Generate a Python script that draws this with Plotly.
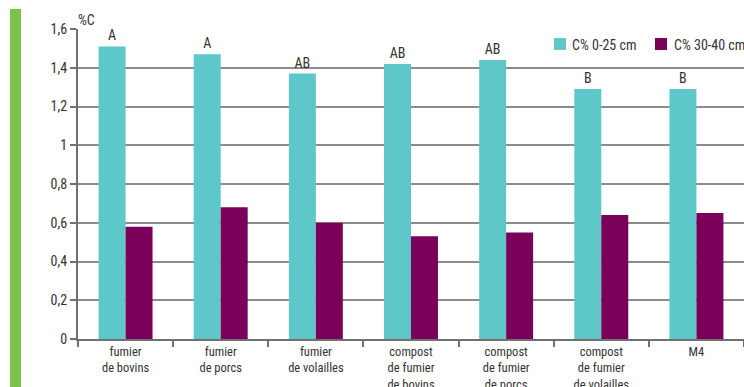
import plotly.graph_objects as go

categories = ["fumier<br>de bovins", "fumier<br>de porcs", "fumier<br>de volailles",
              "compost<br>de fumier<br>de bovins", "compost<br>de fumier<br>de porcs",
              "compost<br>de fumier<br>de volailles", "M4"]
c_0_25 = [1.51, 1.47, 1.37, 1.42, 1.44, 1.29, 1.29]
c_30_40 = [0.58, 0.68, 0.60, 0.53, 0.55, 0.64, 0.65]
letters = ["A", "A", "AB", "AB", "AB", "B", "B"]
series_names = ["C% 0-25 cm", "C% 30-40 cm"]
series_colors = ["#5EC7C9", "#7B005A"]
y_ticks = [0, 0.2, 0.4, 0.6, 0.8, 1, 1.2, 1.4, 1.6]
y_tick_labels = ["0", "0,2", "0,4", "0,6", "0,8", "1", "1,2", "1,4", "1,6"]

FONT = "Liberation Sans Narrow, Roboto Condensed, Liberation Sans, Arial"
TXT = "#333333"

# plot area in pixels
L, R, T, B = 78, 744, 29, 339
W, H = R - L, B - T


def px(x):
    return (x - L) / W


def py(y):
    return (B - y) / H


fig = go.Figure()
fig.add_trace(go.Bar(
    x=categories, y=c_0_25, name=series_names[0],
    marker=dict(color=series_colors[0], line=dict(width=0)),
    text=letters, textposition="outside", cliponaxis=False,
    textfont=dict(family=FONT, size=14, color=TXT),
))
fig.add_trace(go.Bar(
    x=categories, y=c_30_40, name=series_names[1],
    marker=dict(color=series_colors[1], line=dict(width=0)),
))

# manual legend (keeps it inside the window like the reference)
legend_sq_x = [554, 655]
legend_txt_x = [570, 672]
shapes = [dict(type="rect", xref="paper", yref="paper",
               x0=px(10), x1=px(21), y0=py(400), y1=py(9),
               fillcolor="#7DC24B", line=dict(width=0), layer="above")]
annotations = [dict(text="%C", xref="paper", yref="paper", x=px(76), y=py(10),
                    xanchor="left", yanchor="top", showarrow=False,
                    font=dict(family=FONT, size=14, color=TXT))]
for i in range(2):
    shapes.append(dict(type="rect", xref="paper", yref="paper",
                       x0=px(legend_sq_x[i]), x1=px(legend_sq_x[i] + 12),
                       y0=py(50), y1=py(38),
                       fillcolor=series_colors[i], line=dict(width=0), layer="above"))
    annotations.append(dict(text=series_names[i], xref="paper", yref="paper",
                            x=px(legend_txt_x[i]), y=py(44.5),
                            xanchor="left", yanchor="middle", showarrow=False,
                            font=dict(family=FONT, size=14, color=TXT)))

fig.update_layout(
    width=744, height=387,
    margin=dict(l=L, r=744 - R, t=T, b=387 - B, autoexpand=False),
    paper_bgcolor="white", plot_bgcolor="white",
    font=dict(family=FONT, size=14, color=TXT),
    barmode="group", bargap=0.433, bargroupgap=0,
    showlegend=False,
    xaxis=dict(
        tickson="boundaries", ticks="outside", ticklen=6, tickwidth=2, tickcolor="#707070",
        showline=True, linecolor="#707070", linewidth=2, automargin=False,
        tickfont=dict(family=FONT, size=12.5, color=TXT), tickangle=0,
        showgrid=False, fixedrange=True,
    ),
    yaxis=dict(
        range=[0, 1.6], tickvals=y_ticks, ticktext=y_tick_labels,
        ticks="outside", ticklen=6, tickwidth=2, tickcolor="#707070",
        showline=True, linecolor="#707070", linewidth=2, automargin=False,
        showgrid=True, gridcolor="#8C8C8C", gridwidth=2,
        zeroline=False, tickfont=dict(family=FONT, size=14, color=TXT),
    ),
    annotations=annotations,
    shapes=shapes,
)

fig.write_html("out.html")
